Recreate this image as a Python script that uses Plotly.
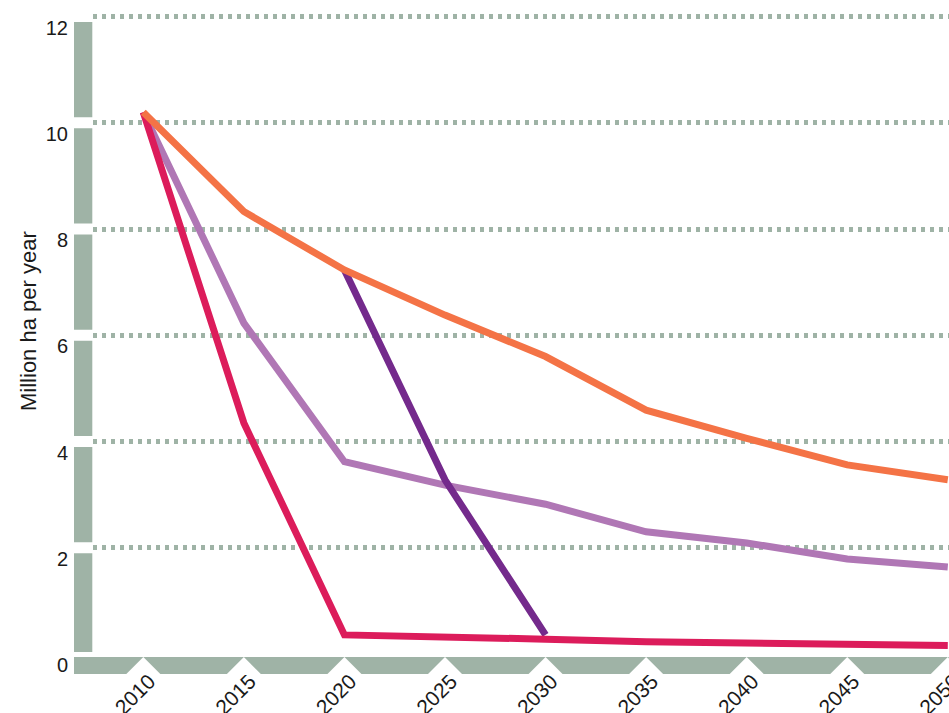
import plotly.graph_objects as go

years = [2010, 2015, 2020, 2025, 2030, 2035, 2040, 2045, 2050]
orange_vals = [10.2, 8.33, 7.23, 6.38, 5.6, 4.59, 4.06, 3.56, 3.28]
light_purple_vals = [10.2, 6.23, 3.62, 3.18, 2.82, 2.3, 2.09, 1.79, 1.64]
dark_purple_years = [2020, 2025, 2030]
dark_purple_vals = [7.23, 3.28, 0.36]
crimson_vals = [10.2, 4.35, 0.36, 0.33, 0.28, 0.23, 0.21, 0.18, 0.16]

y_ticks = [0, 2, 4, 6, 8, 10, 12]
x_ticks = years

ORANGE = "#f47346"
LIGHT_PURPLE = "#b077b5"
DARK_PURPLE = "#742a8c"
CRIMSON = "#dc1c5b"
SAGE = "#9fb3a6"
FONT = "Liberation Sans, Arial, sans-serif"

X_MIN, X_MAX = 2007.5, 2050.06
Y_MIN, Y_MAX = 0, 12.03

fig = go.Figure()
lw = 7
fig.add_trace(go.Scatter(x=years, y=light_purple_vals, mode="lines",
                         line=dict(color=LIGHT_PURPLE, width=lw), showlegend=False))
fig.add_trace(go.Scatter(x=dark_purple_years, y=dark_purple_vals, mode="lines",
                         line=dict(color=DARK_PURPLE, width=lw), showlegend=False))
fig.add_trace(go.Scatter(x=years, y=crimson_vals, mode="lines",
                         line=dict(color=CRIMSON, width=lw), showlegend=False))
fig.add_trace(go.Scatter(x=years, y=orange_vals, mode="lines",
                         line=dict(color=ORANGE, width=lw), showlegend=False))


def ypaper(v):
    return (v - Y_MIN) / (Y_MAX - Y_MIN)


def xpaper(v):
    return (v - X_MIN) / (X_MAX - X_MIN)


shapes = []
# left axis bar segments between gridlines
gap = 0.104
for i in range(len(y_ticks) - 1):
    lo = y_ticks[i] + (0.04 if i == 0 else gap)
    hi = y_ticks[i + 1] - gap
    shapes.append(dict(type="rect", xref="paper", xsizemode="pixel", xanchor=0,
                       x0=-19, x1=-0.7, yref="paper", y0=ypaper(lo), y1=ypaper(hi),
                       fillcolor=SAGE, line=dict(width=0), layer="above"))
# bottom axis bar
shapes.append(dict(type="rect", xref="paper", x0=-19 / 856, x1=1.05,
                   yref="paper", ysizemode="pixel", yanchor=0, y0=-3, y1=-20,
                   fillcolor=SAGE, line=dict(width=0), layer="above"))
# notches at ticks
for yr in x_ticks:
    shapes.append(dict(type="path", xref="paper", xsizemode="pixel", xanchor=xpaper(yr),
                       yref="paper", ysizemode="pixel", yanchor=0,
                       path="M -18,-21 L 0,-3 L 18,-21 Z",
                       fillcolor="white", line=dict(width=0), layer="above"))

fig.update_layout(
    width=949, height=713,
    margin=dict(l=93, r=0, t=15, b=59, autoexpand=False),
    plot_bgcolor="white", paper_bgcolor="white",
    font=dict(family=FONT, size=20, color="#1a1a1a"),
    shapes=shapes,
    xaxis=dict(range=[X_MIN, X_MAX], tickvals=x_ticks, ticktext=[str(v) for v in x_ticks],
               tickangle=-45, showgrid=False, zeroline=False, showline=False,
               ticks="", ticklabelstandoff=10, ticklabelshift=6, automargin=False,
               ticklabeloverflow="allow", tickfont=dict(size=21)),
    yaxis=dict(range=[Y_MIN, Y_MAX], tickvals=y_ticks, ticktext=[str(v) for v in y_ticks],
               showgrid=True, gridcolor=SAGE, gridwidth=4.5, griddash="4px,5px",
               zeroline=False, showline=False, ticks="", ticklabelstandoff=24,
               ticklabelshift=11, automargin=False, tickfont=dict(size=20)),
    annotations=[dict(text="Million ha per year", textangle=-90, xref="paper", yref="paper",
                      x=(28 - 93) / 856, y=(654 - 321) / 639, xanchor="center", yanchor="middle",
                      showarrow=False, font=dict(size=22, color="#1a1a1a"))],
)

fig.write_html("out.html", config={"displayModeBar": False},
               post_script="document.body.style.margin='0';document.body.style.overflow='hidden';")
